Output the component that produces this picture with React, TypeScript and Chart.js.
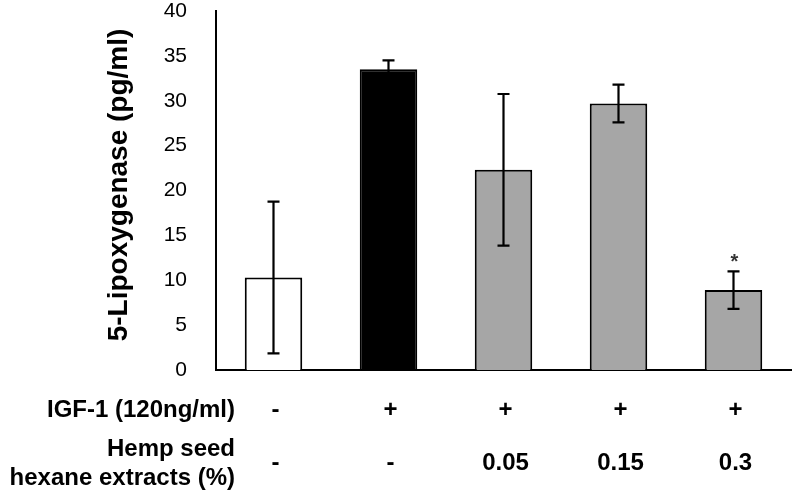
import React, { useEffect, useRef } from "react";
import { Chart, registerables } from "chart.js";

Chart.register(...registerables);

const categories = ["Control", "IGF-1", "HSHE 0.05", "HSHE 0.15", "HSHE 0.3"];
const means = [10.3, 33.5, 22.3, 29.7, 8.9];
const errors = [8.45, 1.0, 8.45, 2.1, 2.1];
const barColors = ["#ffffff", "#000000", "#a6a6a6", "#a6a6a6", "#a6a6a6"];
const significance = ["", "", "", "", "*"];
const yTicks = [0, 5, 10, 15, 20, 25, 30, 35, 40];
const yTitle = "5-Lipoxygenase (pg/ml)";
const igfLabel = "IGF-1 (120ng/ml)";
const igfRow = ["-", "+", "+", "+", "+"];
const hempLabel = ["Hemp seed", "hexane extracts (%)"];
const hempRow = ["-", "-", "0.05", "0.15", "0.3"];

const FONT = "'Liberation Sans', Arial, sans-serif";

const overlayPlugin = {
  id: "overlay",
  afterDatasetsDraw(chart: any) {
    const ctx = chart.ctx;
    const y = chart.scales.y;
    const meta = chart.getDatasetMeta(0);
    ctx.save();
    // error bars
    ctx.strokeStyle = "#000";
    ctx.lineWidth = 2.2;
    meta.data.forEach((bar: any, i: number) => {
      const x = bar.x;
      const top = y.getPixelForValue(means[i] + errors[i]);
      const bot = y.getPixelForValue(means[i] - errors[i]);
      const cap = 6;
      ctx.beginPath();
      ctx.moveTo(x, top);
      ctx.lineTo(x, bot);
      ctx.moveTo(x - cap, top);
      ctx.lineTo(x + cap, top);
      ctx.moveTo(x - cap, bot);
      ctx.lineTo(x + cap, bot);
      ctx.stroke();
      if (significance[i]) {
        ctx.fillStyle = "#333";
        ctx.font = `bold 20px ${FONT}`;
        ctx.textAlign = "center";
        ctx.textBaseline = "alphabetic";
        ctx.fillText(significance[i], x + 1, top - 3);
      }
    });

    // y axis title (rotated)
    ctx.fillStyle = "#000";
    ctx.font = `bold 28px ${FONT}`;
    ctx.textAlign = "center";
    ctx.textBaseline = "middle";
    ctx.save();
    ctx.translate(119, 185);
    ctx.rotate(-Math.PI / 2);
    ctx.fillText(yTitle, 0, 0);
    ctx.restore();

    // table below
    ctx.font = `bold 24px ${FONT}`;
    ctx.textBaseline = "middle";
    ctx.textAlign = "right";
    const labelRight = 235;
    ctx.fillText(igfLabel, labelRight, 410);
    ctx.fillText(hempLabel[0], labelRight, 449);
    ctx.fillText(hempLabel[1], labelRight, 478);
    ctx.textAlign = "center";
    meta.data.forEach((bar: any, i: number) => {
      ctx.fillText(igfRow[i], bar.x + 2, 410);
      ctx.fillText(hempRow[i], bar.x + 2, 463);
    });
    ctx.restore();
  },
};

export default function App() {
  const ref = useRef<HTMLCanvasElement>(null);
  useEffect(() => {
    if (!ref.current) return;
    const chart = new Chart(ref.current, {
      type: "bar",
      data: {
        labels: categories,
        datasets: [
          {
            data: means,
            backgroundColor: barColors,
            borderColor: "#000",
            borderWidth: 2,
            barPercentage: 0.5,
            categoryPercentage: 1.0,
          },
        ],
      },
      options: {
        responsive: false,
        animation: false,
        layout: { padding: { left: 0, right: 3, top: 0, bottom: 0 } },
        plugins: { legend: { display: false }, tooltip: { enabled: false } },
        scales: {
          x: {
            grid: { display: false },
            border: { display: true, color: "#000", width: 2 },
            ticks: { display: false },
            afterFit(scale: any) {
              scale.height = 128;
            },
          },
          y: {
            min: 0,
            max: 40,
            afterBuildTicks(scale: any) {
              scale.ticks = yTicks.map((v) => ({ value: v }));
            },
            grid: { display: false },
            border: { display: true, color: "#000", width: 2 },
            ticks: {
              color: "#000",
              padding: 21,
              font: { family: FONT, size: 21 },
            },
            afterFit(scale: any) {
              scale.width = 216;
              scale.paddingTop = 11;
              scale.paddingBottom = 0;
            },
          },
        },
      },
      plugins: [overlayPlugin],
    });
    return () => chart.destroy();
  }, []);
  return (
    <div style={{ position: "absolute", left: 0, top: 0, width: 794, height: 498, background: "#fff" }}>
      <canvas ref={ref} width={794} height={498} style={{ display: "block" }} />
    </div>
  );
}
